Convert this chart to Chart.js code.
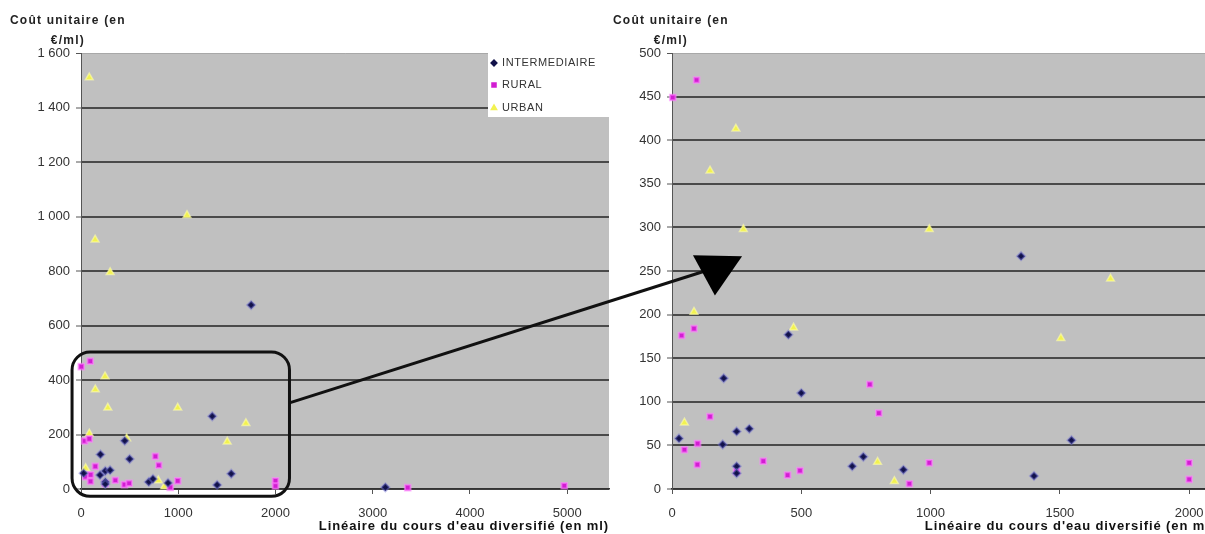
<!DOCTYPE html>
<html>
<head>
<meta charset="utf-8">
<script src="https://cdn.jsdelivr.net/npm/chart.js@4.4.0/dist/chart.umd.min.js"></script>
<style>
  html, body { margin: 0; padding: 0; background: #ffffff; overflow: hidden; }
  #wrap { position: relative; width: 1205px; height: 534px; overflow: hidden; }
  #left { position: absolute; left: 0; top: 0; }
  #right { position: absolute; left: 605px; top: 0; }
  #overlay { position: absolute; left: 0; top: 0; pointer-events: none; }
</style>
</head>
<body>
<div id="wrap">
  <canvas id="left" width="615" height="534"></canvas>
  <canvas id="right" width="640" height="534"></canvas>
  <canvas id="overlay" width="1205" height="534"></canvas>
</div>
<script>
// Libellés des séries
var seriesLabels = ["INTERMEDIAIRE", "RURAL", "URBAN"];

// Linéaire (ml) et coût unitaire (€/ml) par série
var interX = [27, 196, 250, 299, 250, 250, 200, 450, 500, 697, 740, 895, 1350, 1400, 1545, 1750, 3130];
var interY = [58, 51, 66, 69, 26, 18, 127, 177, 110, 26, 37, 22, 267, 15, 56, 675, 6];

var ruralX = [3, 95, 37, 85, 147, 48, 99, 98, 250, 353, 447, 495, 765, 800, 918, 995, 2000, 2000, 3360, 4970];
var ruralY = [449, 469, 176, 184, 83, 45, 52, 28, 20, 32, 16, 21, 120, 87, 6, 30, 30, 11, 5, 12];

var urbanX = [85, 145, 300, 1090, 247, 147, 276, 85, 470, 48, 995, 1504, 1696, 795, 860];
var urbanY = [1510, 915, 795, 1005, 413, 365, 298, 203, 185, 76, 298, 173, 241, 31, 9];

// Graduations des deux graphiques
var leftXTicks = [0, 1000, 2000, 3000, 4000, 5000];
var leftYTicks = [0, 200, 400, 600, 800, 1000, 1200, 1400, 1600];
var rightXTicks = [0, 500, 1000, 1500, 2000];
var rightYTicks = [0, 50, 100, 150, 200, 250, 300, 350, 400, 450, 500];

// Textes des axes
var yTitleLines = ["Coût unitaire (en", "€/ml)"];
var xTitle = "Linéaire du cours d'eau diversifié (en ml)";

var FONT = "'Liberation Sans', Arial, sans-serif";

function toPoints(xs, ys) {
    return xs.map(function (x, i) {
        return { x: x, y: ys[i] };
    });
}

function makeDatasets() {
    return [
        {
            label: seriesLabels[0],
            data: toPoints(interX, interY),
            pointStyle: "rectRot",
            pointRadius: 4,
            backgroundColor: "#12124a",
            borderColor: "rgba(110,110,210,0.45)",
            pointBorderWidth: 2,
            clip: false,
        },
        {
            label: seriesLabels[1],
            data: toPoints(ruralX, ruralY),
            pointStyle: "rect",
            pointRadius: 4,
            backgroundColor: "#d21ed2",
            borderColor: "rgba(255,130,255,0.6)",
            pointBorderWidth: 2,
            clip: false,
        },
        {
            label: seriesLabels[2],
            data: toPoints(urbanX, urbanY),
            pointStyle: "triangle",
            pointRadius: 4.5,
            backgroundColor: "#f2f250",
            borderColor: "rgba(255,255,170,0.6)",
            pointBorderWidth: 1.5,
            clip: false,
        },
    ];
}

// Fond gris de la zone de tracé
var plotBg = {
    id: "plotBg",
    beforeDraw: function (chart) {
        var a = chart.chartArea;
        var ctx = chart.ctx;
        ctx.save();
        ctx.fillStyle = "#c0c0c0";
        ctx.fillRect(a.left, a.top, a.right - a.left, a.bottom - a.top);
        ctx.restore();
    },
};

// Titres des axes : Y en haut à gauche (deux lignes), X en bas à droite
var axisTitles = {
    id: "axisTitles",
    afterDraw: function (chart, args, opts) {
        var ctx = chart.ctx;
        ctx.save();
        ctx.font = "bold 12px " + FONT;
        ctx.letterSpacing = "1.2px";
        ctx.fillStyle = "#222";
        ctx.textBaseline = "middle";
        var w = ctx.measureText(yTitleLines[0]).width;
        var cx = opts.x + w / 2;
        ctx.textAlign = "center";
        ctx.fillText(yTitleLines[0], cx, 21);
        ctx.fillText(yTitleLines[1], cx, 41);

        ctx.font = "bold 13px " + FONT;
        ctx.letterSpacing = "0.9px";
        ctx.fillStyle = "#111";
        ctx.textAlign = "right";
        ctx.fillText(xTitle, chart.chartArea.right, 526);
        ctx.restore();
    },
};

// Légende dans le coin haut droit de la zone de tracé
var legendBox = {
    id: "legendBox",
    afterDraw: function (chart, args, opts) {
        if (!opts.show) return;
        var a = chart.chartArea;
        var ctx = chart.ctx;
        var w = 121, h = 64;
        var x0 = a.right - w, y0 = a.top;
        ctx.save();
        ctx.fillStyle = "#ffffff";
        ctx.fillRect(x0, y0, w, h);
        ctx.font = "11px " + FONT;
        ctx.letterSpacing = "0.6px";
        ctx.textBaseline = "middle";
        var rows = [10, 32, 55];
        chart.data.datasets.forEach(function (ds, i) {
            ctx.fillStyle = ds.backgroundColor;
            ctx.strokeStyle = ds.backgroundColor;
            Chart.helpers.drawPoint(ctx, { pointStyle: ds.pointStyle, radius: 2.5, rotation: 0, borderWidth: 1 }, x0 + 6, y0 + rows[i]);
            ctx.fillStyle = "#333";
            ctx.fillText(ds.label, x0 + 14, y0 + rows[i]);
        });
        ctx.restore();
    },
};

// Cadre arrondi autour de la zone agrandie
var zoomFrame = {
    id: "zoomFrame",
    afterDraw: function (chart, args, opts) {
        if (!opts.show) return;
        var xs = chart.scales.x, ys = chart.scales.y;
        var x1 = xs.getPixelForValue(-92), x2 = xs.getPixelForValue(2144);
        var y1 = ys.getPixelForValue(503), y2 = ys.getPixelForValue(-27);
        var ctx = chart.ctx;
        ctx.save();
        ctx.lineWidth = 3;
        ctx.strokeStyle = "#111";
        ctx.beginPath();
        ctx.roundRect(x1, y1, x2 - x1, y2 - y1, 18);
        ctx.stroke();
        ctx.restore();
    },
};

function setTicks(values) {
    return function (scale) {
        scale.ticks = values.map(function (v) {
            return { value: v };
        });
    };
}

function fmtThousands(v) {
    if (v >= 1000) return Math.floor(v / 1000) + " " + String(v % 1000).padStart(3, "0");
    return String(v);
}

function makeChart(id, cfg) {
    var ctx = document.getElementById(id).getContext("2d");
    return new Chart(ctx, {
        type: "scatter",
        data: { datasets: makeDatasets() },
        plugins: [plotBg, axisTitles, legendBox, zoomFrame],
        options: {
            responsive: false,
            animation: false,
            devicePixelRatio: 1,
            layout: { padding: { left: 0, top: 53, right: cfg.padRight, bottom: 0 } },
            plugins: {
                legend: { display: false },
                tooltip: { enabled: false },
                axisTitles: { x: cfg.titleX },
                legendBox: { show: cfg.legend },
                zoomFrame: { show: cfg.frame },
            },
            scales: {
                x: {
                    type: "linear",
                    min: 0,
                    max: cfg.xMax,
                    afterBuildTicks: setTicks(cfg.xTicks),
                    afterFit: function (s) { s.height = 534 - 489; },
                    ticks: {
                        color: "#333",
                        padding: 12,
                        maxRotation: 0,
                        autoSkip: false,
                        font: { family: FONT, size: 13 },
                        callback: function (v) { return String(v); },
                    },
                    grid: {
                        drawOnChartArea: false,
                        drawTicks: true,
                        tickLength: 5,
                        tickColor: "#555",
                        tickWidth: 1,
                    },
                    border: { display: true, color: "#333", width: 1.5 },
                },
                y: {
                    type: "linear",
                    min: 0,
                    max: cfg.yMax,
                    afterBuildTicks: setTicks(cfg.yTicks),
                    afterFit: function (s) { s.width = cfg.yWidth; },
                    ticks: {
                        color: "#333",
                        padding: 6,
                        autoSkip: false,
                        font: { family: FONT, size: 13 },
                        callback: fmtThousands,
                    },
                    grid: {
                        color: function (c) {
                            return c.tick && c.tick.value === cfg.yMax ? "#a8a8a8" : "#4a4a4a";
                        },
                        lineWidth: function (c) {
                            return c.tick && c.tick.value === cfg.yMax ? 1 : 2;
                        },
                        tickLength: 5,
                        tickColor: "#555",
                        tickWidth: 1,
                    },
                    border: { display: true, color: "#555", width: 1 },
                },
            },
        },
    });
}

var leftChart = makeChart("left", {
    xMax: 5430, xTicks: leftXTicks, yMax: 1600, yTicks: leftYTicks,
    yWidth: 81, padRight: 5, titleX: 10, legend: true, frame: true,
});

var rightChart = makeChart("right", {
    xMax: 2100, xTicks: rightXTicks, yMax: 500, yTicks: rightYTicks,
    yWidth: 67, padRight: 30, titleX: 8, legend: false, frame: false,
});

// Flèche reliant le cadre au graphique agrandi
function drawArrow() {
    var ctx = document.getElementById("overlay").getContext("2d");
    var rOff = 605;
    var lx = leftChart.scales.x, ly = leftChart.scales.y;
    var rx = rightChart.scales.x, ry = rightChart.scales.y;

    var sx = lx.getPixelForValue(2144), sy = ly.getPixelForValue(316);
    var ex = rOff + rx.getPixelForValue(128), ey = ry.getPixelForValue(250);

    ctx.strokeStyle = "#111";
    ctx.lineWidth = 3;
    ctx.beginPath();
    ctx.moveTo(sx, sy);
    ctx.lineTo(ex, ey);
    ctx.stroke();

    var head = [[81, 268], [271, 267], [166, 222]];
    ctx.fillStyle = "#000";
    ctx.beginPath();
    head.forEach(function (p, i) {
        var px = rOff + rx.getPixelForValue(p[0]);
        var py = ry.getPixelForValue(p[1]);
        if (i === 0) ctx.moveTo(px, py);
        else ctx.lineTo(px, py);
    });
    ctx.closePath();
    ctx.fill();
}

drawArrow();
</script>
</body>
</html>
